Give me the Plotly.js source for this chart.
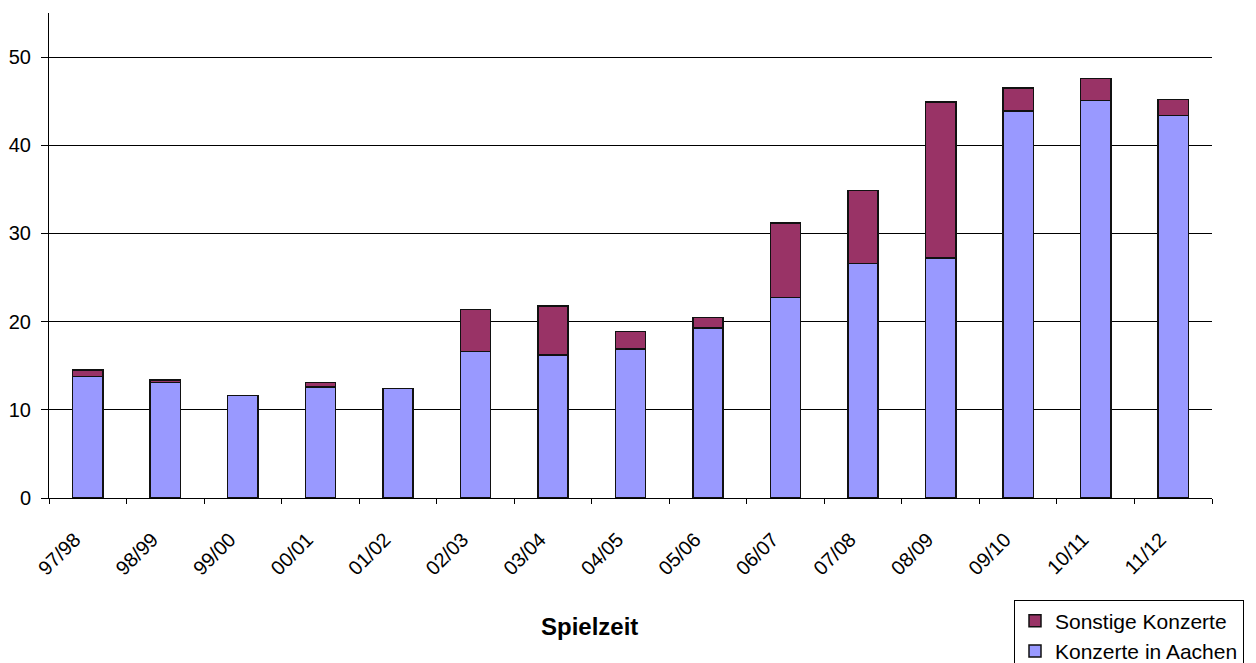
<!DOCTYPE html>
<html>
<head>
<meta charset="utf-8">
<script src="https://cdn.plot.ly/plotly-3.0.1.min.js"></script>
<style>html,body{margin:0;padding:0;background:#fff;}#chart{width:1256px;height:663px;}</style>
</head>
<body>
<div id="chart"></div>
<script>
const seasons = ["97/98","98/99","99/00","00/01","01/02","02/03","03/04","04/05","05/06","06/07","07/08","08/09","09/10","10/11","11/12"];
const konzerteAachen = [13.8,13.1,11.6,12.6,12.4,16.6,16.2,16.9,19.3,22.75,26.6,27.2,43.9,45.1,43.4];
const sonstigeKonzerte = [0.7,0.3,0,0.5,0,4.75,5.6,2.0,1.15,8.45,8.25,17.7,2.6,2.5,1.8];
const yTicks = [0,10,20,30,40,50];

const font = "Liberation Sans, Arial, sans-serif";
const traces = [
  {type:"bar", name:"Konzerte in Aachen", x:seasons, y:konzerteAachen,
   marker:{color:"#9999FF", line:{color:"#111", width:1.5}}},
  {type:"bar", name:"Sonstige Konzerte", x:seasons, y:sonstigeKonzerte,
   marker:{color:"#993366", line:{color:"#111", width:1.5}}}
];
const layout = {
  width:1256, height:663,
  margin:{l:49, r:44, t:13, b:165, autoexpand:false},
  paper_bgcolor:"#fff", plot_bgcolor:"#fff",
  barmode:"stack", bargap:0.61,
  font:{family:font, size:20, color:"#000"},
  showlegend:true,
  legend:{x:(1014-49)/1163, y:(498.3-600)/485.3, xanchor:"left", yanchor:"top", traceorder:"reversed",
          bordercolor:"#000", borderwidth:1, bgcolor:"#fff",
          font:{family:font, size:21, color:"#000"}, itemwidth:30, tracegroupgap:0},
  xaxis:{type:"category", tickangle:-45, showline:true, linecolor:"#000", linewidth:1,
         ticks:"outside", ticklen:5, tickcolor:"#000", tickson:"boundaries",
         ticklabelstandoff:21, ticklabelshift:-13, automargin:false,
         showgrid:false, tickfont:{family:font, size:20, color:"#000"}},
  yaxis:{range:[0,55], tickvals:yTicks, showline:true, linecolor:"#000", linewidth:1,
         ticks:"outside", ticklen:7, tickcolor:"#000", showgrid:true, gridcolor:"#000", gridwidth:1,
         ticklabelstandoff:6, automargin:false,
         zeroline:false, tickfont:{family:font, size:20, color:"#000"}},
  annotations:[{text:"<b>Spielzeit</b>", xref:"paper", yref:"paper", x:(589-49)/1163, y:(498.3-627)/485.3,
                xanchor:"center", yanchor:"middle", showarrow:false,
                font:{family:font, size:24, color:"#000"}}]
};
Plotly.newPlot("chart", traces, layout, {displayModeBar:false, staticPlot:true});
</script>
</body>
</html>
